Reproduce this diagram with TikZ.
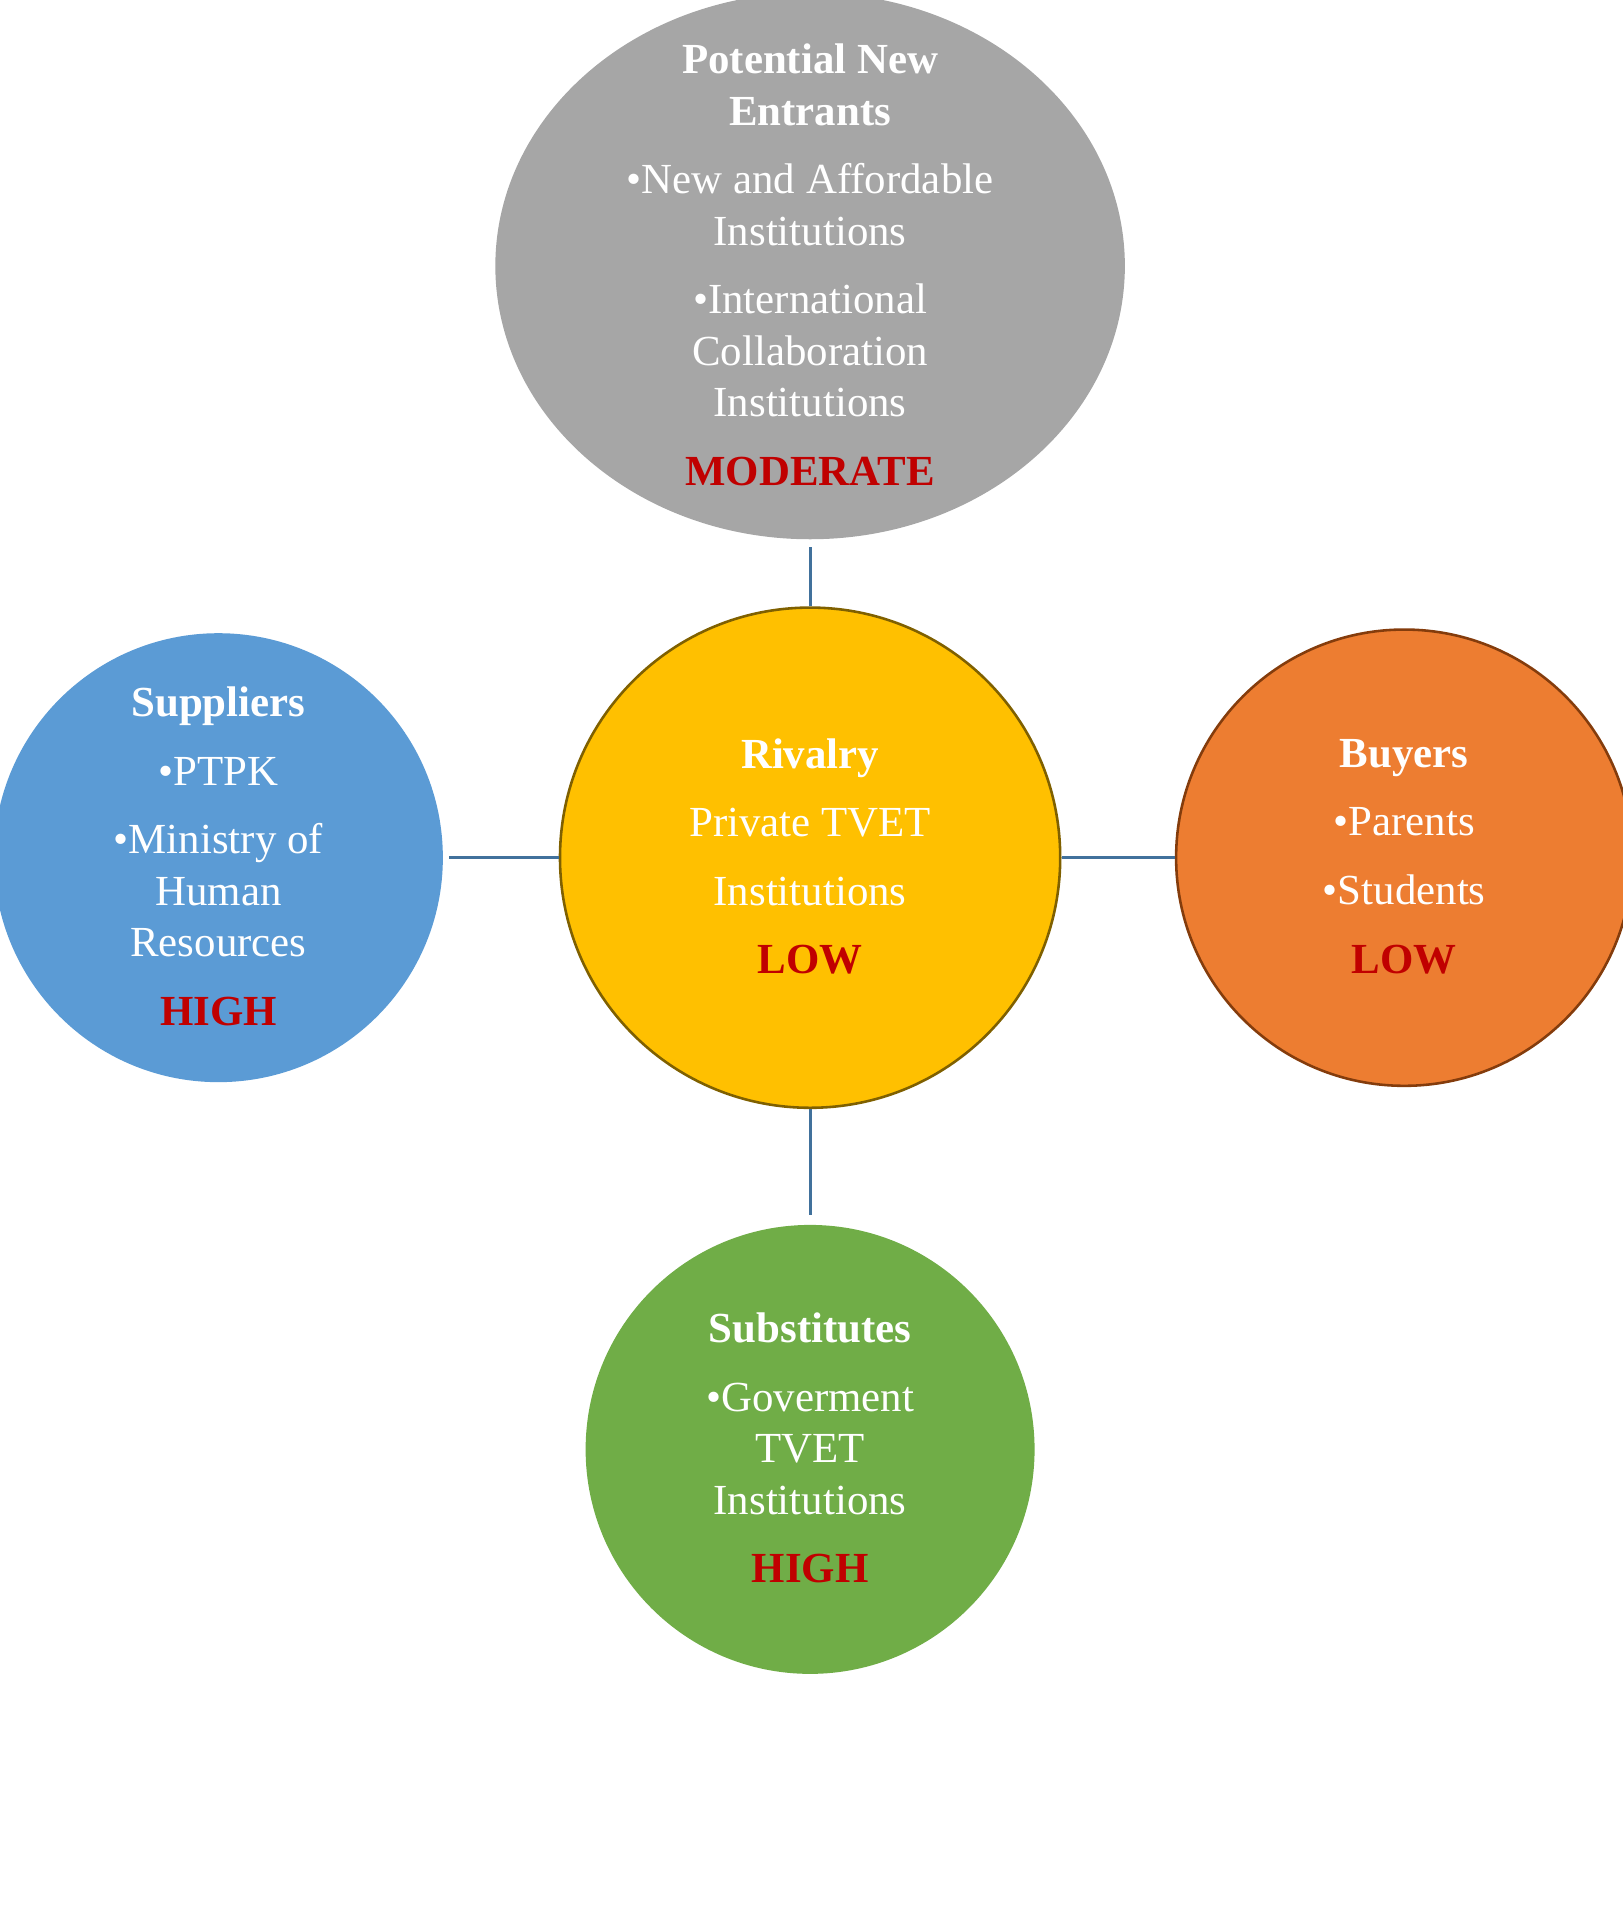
\documentclass[tikz,border=0pt]{standalone}
\usepackage{fontspec}
\setmainfont{Liberation Serif}
\usetikzlibrary{shapes.geometric}
\definecolor{gr}{HTML}{A6A6A6}
\definecolor{yl}{HTML}{FFC000}
\definecolor{bl}{HTML}{5B9BD5}
\definecolor{og}{HTML}{ED7D31}
\definecolor{gn}{HTML}{70AD47}
\definecolor{ln}{HTML}{41719C}
\definecolor{rd}{HTML}{C00000}
\begin{document}
\begin{tikzpicture}[x=0.02cm,y=-0.02cm,
  txt/.style={text=white,align=center,font=\fontsize{20}{24}\selectfont},
  conn/.style={draw=ln,line width=1.3pt}]
\useasboundingbox (0,0) rectangle (1330,1568);
\node[ellipse,fill=gr,minimum width=516*0.02cm,minimum height=448*0.02cm,inner sep=0] (pne) at (664,218) {};
\node[circle,fill=yl,draw={rgb,255:red,127;green,96;blue,0},line width=1.2pt,minimum size=410*0.02cm,inner sep=0] (riv) at (664,703) {};
\node[circle,fill=bl,minimum size=368*0.02cm,inner sep=0] (sup) at (179,703) {};
\node[circle,fill=og,draw={rgb,255:red,132;green,60;blue,12},line width=1.2pt,minimum size=374*0.02cm,inner sep=0] (buy) at (1151,703) {};
\node[circle,fill=gn,minimum size=368*0.02cm,inner sep=0] (sub) at (664,1188) {};
\draw[conn,shorten >=6*0.02cm] (riv.north) -- (pne.south);
\draw[conn,shorten >=5*0.02cm] (riv.west) -- (sup.east);
\draw[conn] (riv.east) -- (buy.west);
\draw[conn,shorten >=8*0.02cm] (riv.south) -- (sub.north);
\node[txt] (tpne) at (664,217) {\textbf{Potential New}\\\textbf{Entrants}\\[8pt]•New and Affordable\\Institutions\\[8pt]•International\\Collaboration\\Institutions\\[8pt]{\color{rd}\bfseries MODERATE}};
\node[txt] (triv) at (664,702) {\textbf{Rivalry}\\[8pt]Private TVET\\[8pt]Institutions\\[8pt]{\color{rd}\bfseries LOW}};
\node[txt] (tsup) at (179,702) {\textbf{Suppliers}\\[8pt]•PTPK\\[8pt]•Ministry of\\Human\\Resources\\[8pt]{\color{rd}\bfseries HIGH}};
\node[txt] (tbuy) at (1151,702) {\textbf{Buyers}\\[8pt]•Parents\\[8pt]•Students\\[8pt]{\color{rd}\bfseries LOW}};
\node[txt] (tsub) at (664,1187) {\textbf{Substitutes}\\[8pt]•Goverment\\TVET\\Institutions\\[8pt]{\color{rd}\bfseries HIGH}};
\end{tikzpicture}
\end{document}
